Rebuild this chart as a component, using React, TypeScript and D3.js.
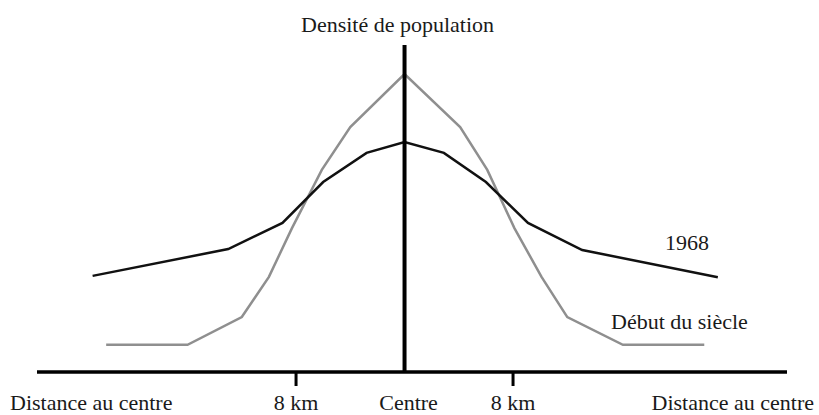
import React from 'react';
import * as d3 from 'd3';

// distance from centre in km, density in arbitrary units (0-100)
const km1968 = [-23, -13, -9, -6, -2.8, 0, 2.9, 6, 9.1, 13.1, 23.1];
const density1968 = [29.4, 37.6, 45.6, 58.1, 67, 70.3, 67, 58.1, 45.6, 37.3, 29];

const kmDebut = [-22, -16, -12, -10, -8.3, -6.1, -4, 0, 4.1, 6.1, 8.1, 10.1, 12, 16.1, 22.1];
const densityDebut = [8.3, 8.3, 16.8, 29.1, 44, 61.8, 74.9, 91.1, 74.9, 61.8, 44, 29.1, 16.8, 8.3, 8.3];

const tickKm = [-8, 8];
const tickLabels = ['8 km', '8 km'];
const axisRange = [-27.1, 28.2];

export default function App() {
  const width = 819;
  const height = 415;
  const font = "'Liberation Serif', 'Times New Roman', serif";

  const x = d3.scaleLinear().domain(axisRange).range([37, 787]);
  const y = d3.scaleLinear().domain([0, 100]).range([372, 45]);

  const line = d3
    .line<[number, number]>()
    .x(d => x(d[0]))
    .y(d => y(d[1]));

  const path1968 = line(km1968.map((k, i) => [k, density1968[i]]));
  const pathDebut = line(kmDebut.map((k, i) => [k, densityDebut[i]]));

  const base = y(0);
  const x0 = x(0);
  const textStyle = { fontFamily: font, fontSize: 22, fill: '#1a1a1a' };

  return (
    <svg
      width={width}
      height={height}
      style={{ position: 'absolute', left: 0, top: 0, background: '#fff' }}
    >
      <path d={pathDebut || ''} fill="none" stroke="#8f8f8f" strokeWidth={2.5} />
      <path d={path1968 || ''} fill="none" stroke="#111" strokeWidth={2.5} />

      {/* axes */}
      <line x1={x(axisRange[0])} x2={x(axisRange[1])} y1={base} y2={base} stroke="#000" strokeWidth={3.5} />
      <line x1={x0} x2={x0} y1={y(100)} y2={base} stroke="#000" strokeWidth={4} />
      {tickKm.map((k, i) => (
        <g key={i}>
          <line x1={x(k)} x2={x(k)} y1={base} y2={base + 14} stroke="#000" strokeWidth={3} />
          <text x={x(k)} y={410} textAnchor="middle" style={textStyle}>{tickLabels[i]}</text>
        </g>
      ))}
      <text x={x0 + 4} y={410} textAnchor="middle" style={textStyle}>Centre</text>
      <text x={10} y={410} textAnchor="start" style={textStyle}>Distance au centre</text>
      <text x={814} y={410} textAnchor="end" style={textStyle}>Distance au centre</text>

      <text x={x0 - 7} y={32} textAnchor="middle" style={textStyle}>Densité de population</text>
      <text x={665} y={250} style={textStyle}>1968</text>
      <text x={611} y={329} style={textStyle}>Début du siècle</text>
    </svg>
  );
}
